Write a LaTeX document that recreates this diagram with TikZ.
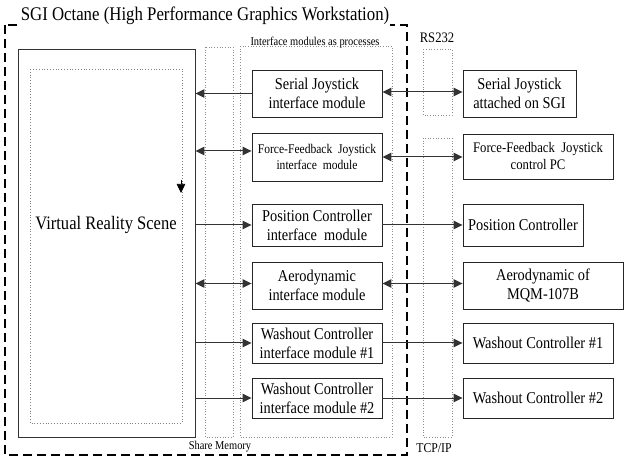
\documentclass[tikz,border=0pt]{standalone}
\usepackage{fontspec}
\setmainfont{Liberation Serif}[FakeStretch=0.87]
\usetikzlibrary{arrows.meta,calc}
\begin{document}
\begin{tikzpicture}[x=1pt,y=-1pt,
  modbox/.style={draw=black!85,line width=0.9pt,align=center,inner sep=1pt,font=\fontsize{16.5}{19}\selectfont},
  smallbox/.style={modbox,font=\fontsize{13.3}{16}\selectfont},
  dotbox/.style={draw=black!45,dotted,line width=0.7pt},
  conn/.style={draw=black!80,line width=1pt},
  tip/.style={-{Triangle[length=9pt,width=8.5pt]}},
  dtip/.style={{Triangle[length=9pt,width=8.5pt]}-{Triangle[length=9pt,width=8.5pt]}},
  lab/.style={font=\fontsize{12}{14}\selectfont,inner sep=0pt}]
\useasboundingbox (0,0) rectangle (624,462);
% outer dashed workstation box
\draw[line width=1.1pt,dash pattern=on 9pt off 5pt] (5,25) rectangle (407,455);
\node[fill=white,inner sep=1pt,font=\fontsize{19.3}{22}\selectfont] (title) at (205,16) {SGI Octane (High Performance Graphics Workstation)};
% columns
\draw[dotbox] (205,47) rectangle (233,437);
\draw[dotbox] (240,46) rectangle (392,437);
\draw[dotbox] (423,49) rectangle (452,115);
\draw[dotbox] (423,138) rectangle (452,437);
\node[lab,anchor=base] (imlab) at (315,46) {Interface modules as processes};
\node[lab] (smlab) at (220,447) {Share Memory};
\node[lab,font=\fontsize{14.5}{16}\selectfont] (rslab) at (437,38) {RS232};
\node[lab,font=\fontsize{13.5}{16}\selectfont] (tcplab) at (434,448) {TCP/IP};
% VR scene
\node[draw=black!80,line width=0.9pt,minimum width=177,minimum height=388,inner sep=0pt] (vr) at (106.5,243) {};
\draw[draw=black!50,dotted,line width=0.8pt] (30,69) rectangle (182,423);
\node[font=\fontsize{19}{22}\selectfont,inner sep=0pt] (vrtext) at (106,225) {Virtual Reality Scene};
\coordinate (dtop) at (181,180);
\coordinate (dbot) at (181,193);
\draw[tip,line width=0.6pt] (dtop) -- (dbot);
% interface modules
\node[modbox,minimum width=130,minimum height=47] (m1) at (317,93.5) {Serial Joystick\\interface module};
\node[smallbox,minimum width=130,minimum height=48] (m2) at (317,157) {Force-Feedback\ \ Joystick\\interface\ \ module};
\node[modbox,minimum width=130,minimum height=42] (m3) at (317,225) {Position Controller\\interface\ \ module};
\node[modbox,minimum width=130,minimum height=47] (m4) at (317,285.5) {Aerodynamic\\interface module};
\node[modbox,minimum width=130,minimum height=40] (m5) at (317,343) {Washout Controller\\interface module \#1};
\node[modbox,minimum width=130,minimum height=40] (m6) at (317,398) {Washout Controller\\interface module \#2};
% right side devices
\node[modbox,minimum width=113,minimum height=47] (r1) at (519.5,93.5) {Serial Joystick\\attached on SGI};
\node[modbox,minimum width=150,minimum height=45,font=\fontsize{14.6}{17}\selectfont] (r2) at (538,156.5) {Force-Feedback\ \ Joystick\\control PC};
\node[modbox,minimum width=120,minimum height=42] (r3) at (523,225) {Position Controller};
\node[modbox,minimum width=160,minimum height=47] (r4) at (543,285.5) {Aerodynamic of\\MQM-107B};
\node[modbox,minimum width=150,minimum height=40] (r5) at (538,343) {Washout Controller \#1};
\node[modbox,minimum width=150,minimum height=40] (r6) at (538,398) {Washout Controller \#2};
% connectors: VR scene <-> modules
\draw[conn,tip] (m1.west) -- (vr.east |- m1.west);
\draw[conn,dtip] ([yshift=6pt]vr.east |- m2.west) -- ([yshift=6pt]m2.west);
\draw[conn,tip] (vr.east |- m3.west) -- (m3.west);
\draw[conn,dtip] ([yshift=2pt]vr.east |- m4.west) -- ([yshift=2pt]m4.west);
\draw[conn,tip] (vr.east |- m5.west) -- (m5.west);
\draw[conn,tip] (vr.east |- m6.west) -- (m6.west);
% connectors: modules <-> devices
\draw[conn,dtip] ([yshift=1.5pt]m1.east) -- ([yshift=1.5pt]r1.west);
\draw[conn,dtip] (m2.east) -- (m2.east -| r2.west);
\draw[conn,tip] (m3.east) -- (r3.west);
\draw[conn,dtip] ([yshift=2pt]m4.east) -- ([yshift=2pt]r4.west);
\draw[conn,tip] (m5.east) -- (r5.west);
\draw[conn,tip] (m6.east) -- (r6.west);
\end{tikzpicture}
\end{document}
